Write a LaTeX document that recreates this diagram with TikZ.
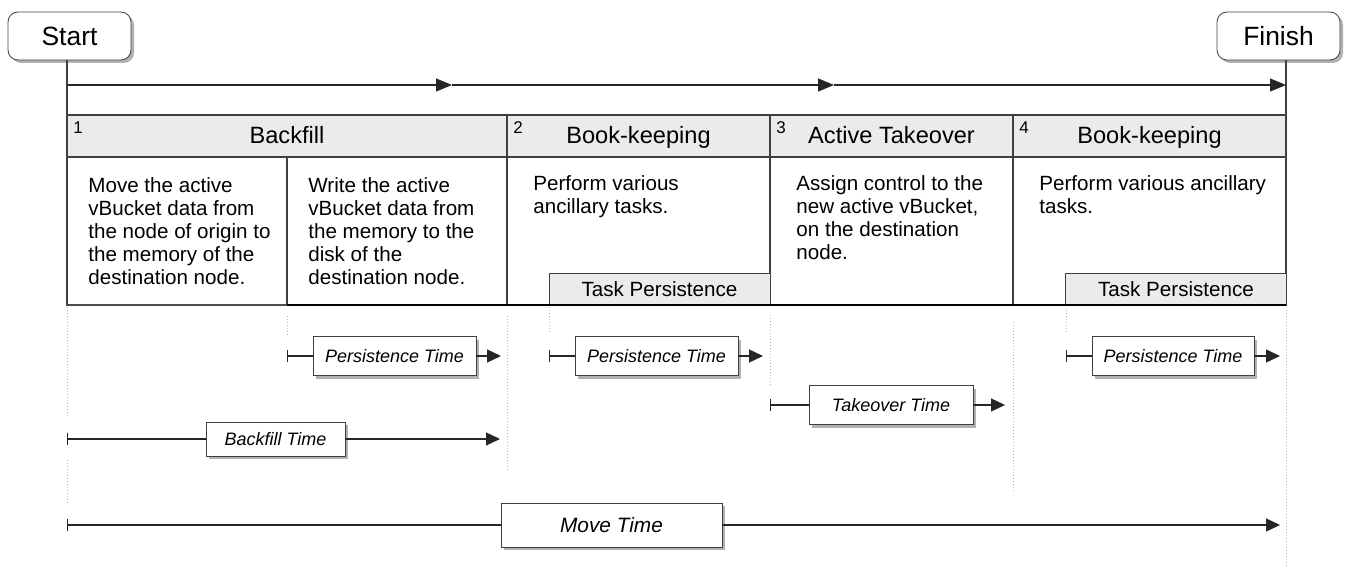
\documentclass[tikz,border=0pt]{standalone}
\usepackage{fontspec}
\setmainfont{Liberation Sans}
\usetikzlibrary{arrows.meta,shadows}

\definecolor{linegray}{gray}{0.25}
\definecolor{headgray}{gray}{0.92}
\definecolor{guidegray}{gray}{0.72}

\tikzset{
  shade/.style={drop shadow={shadow xshift=1.5pt, shadow yshift=-1.5pt, fill=black!30, opacity=1}},
  endbox/.style={draw=linegray, fill=white, rounded corners=5pt, shade,
    minimum width=61.5pt, minimum height=24pt, inner sep=0pt,
    font=\fontsize{13.2}{15}\selectfont},
  head/.style={anchor=base, inner sep=0pt, font=\fontsize{11.8}{14}\selectfont},
  num/.style={anchor=north west, inner sep=0pt, font=\fontsize{8.5}{9}\selectfont},
  body/.style={anchor=north west, inner sep=0pt, align=left,
    font=\fontsize{10.3}{11.5}\selectfont},
  taskbox/.style={draw=linegray, fill=headgray, minimum width=110.5pt,
    minimum height=16pt, inner sep=0pt, font=\fontsize{10.3}{12}\selectfont},
  timebox/.style={draw=linegray, fill=white, shade, minimum height=19.5pt,
    inner sep=0pt, font=\itshape\fontsize{9}{11}\selectfont},
  guide/.style={draw=guidegray, densely dotted, line width=0.5pt},
  flow/.style={draw=black!85, line width=0.6pt, -{Triangle[length=8pt,width=6.5pt]}},
  startbar/.style={draw=black!85, line width=0.6pt, {Bar[width=6pt]}-},
  endtip/.style={draw=black!85, line width=0.6pt, -{Triangle[length=7pt,width=6.5pt]}}
}

\begin{document}
\begin{tikzpicture}[x=0.5pt,y=-0.5pt]
%\draw[help lines] (0,0) grid (1353,588);
\useasboundingbox (0,0) rectangle (1353,588);

\node[endbox] (start) at (69.5,36) {Start};
\node[endbox] (finish) at (1278.5,36) {Finish};

\coordinate (tl) at (67,115);
\coordinate (tr) at (1286,115);
\draw[linegray, line width=0.6pt] (start.south -| tl) -- (tl);
\draw[linegray, line width=0.6pt] (finish.south -| tr) -- (tr);

% time line
\coordinate (t0) at (67,85);
\coordinate (t1) at (452,85);
\coordinate (t2) at (834,85);
\coordinate (t3) at (1286,85);
\draw[flow] (t0) -- (t1);
\draw[flow] (t1) -- (t2);
\draw[flow] (t2) -- (t3);

% table
\draw[linegray, line width=0.6pt, fill=headgray] (67,115) rectangle (1286,157);
\draw[linegray, line width=0.6pt] (67,157) rectangle (1286,305);
\foreach \x in {507,770,1013}
  \draw[linegray, line width=0.6pt] (\x,115) -- (\x,305);
\draw[linegray, line width=0.6pt] (287,157) -- (287,305);

\node[head] (backfill) at (287,144) {Backfill};
\node[head] (keep1) at (638.5,144) {Book-keeping};
\node[head] (takeover) at (891.5,144) {Active Takeover};
\node[head] (keep2) at (1149.5,144) {Book-keeping};
\node[num] (n1) at (73,121) {1};
\node[num] (n2) at (513,121) {2};
\node[num] (n3) at (776,121) {3};
\node[num] (n4) at (1019,121) {4};

\node[body] (move) at (88,177) {Move the active\\vBucket data from\\the node of origin to\\the memory of the\\destination node.};
\node[body] (write) at (308,177) {Write the active\\vBucket data from\\the memory to the\\disk of the\\destination node.};
\node[body] (tasks1) at (533,175) {Perform various\\ancillary tasks.};
\node[body] (assign) at (796,175) {Assign control to the\\new active vBucket,\\on the destination\\node.};
\node[body] (tasks2) at (1039,175) {Perform various ancillary\\tasks.};

\node[taskbox] (tp1) at (659.5,289) {Task Persistence};
\node[taskbox] (tp2) at (1176,289) {Task Persistence};

\draw[black!70, line width=1pt] (67,305) -- (287,305);
\draw[black, line width=1.3pt] (287,305) -- (1286,305);

% guides
\foreach \x/\a/\b in {67/307/417, 67/460/503, 287/316/337, 507/316/472,
    549/307/332, 770/315/385, 1013/322/493, 1066/310/332, 1286/310/568}
  \draw[guide] (\x,\a) -- (\x,\b);

% durations
\coordinate (pt1s) at (287,356);
\coordinate (pt1e) at (501,356);
\node[timebox, minimum width=81.5pt] (pt1) at (394.5,356) {Persistence Time};
\draw[startbar] (pt1s) -- (pt1);
\draw[endtip] (pt1) -- (pt1e);

\coordinate (pt2s) at (549,356);
\coordinate (pt2e) at (763,356);
\node[timebox, minimum width=81.5pt] (pt2) at (656.5,356) {Persistence Time};
\draw[startbar] (pt2s) -- (pt2);
\draw[endtip] (pt2) -- (pt2e);

\coordinate (pt3s) at (1066,356);
\coordinate (pt3e) at (1280,356);
\node[timebox, minimum width=81pt] (pt3) at (1173,356) {Persistence Time};
\draw[startbar] (pt3s) -- (pt3);
\draw[endtip] (pt3) -- (pt3e);

\coordinate (tks) at (770,405);
\coordinate (tke) at (1005,405);
\node[timebox, minimum width=82pt] (tk) at (891,405) {Takeover Time};
\draw[startbar] (tks) -- (tk);
\draw[endtip] (tk) -- (tke);

\coordinate (bfs) at (67,439);
\coordinate (bfe) at (500,439);
\node[timebox, minimum width=69.5pt, minimum height=17pt] (bf) at (275.5,439) {Backfill Time};
\draw[startbar] (bfs) -- (bf);
\draw[endtip] (bf) -- (bfe);

\coordinate (mvs) at (67,525);
\coordinate (mve) at (1280,525);
\node[timebox, minimum width=110.5pt, minimum height=22pt, font=\itshape\fontsize{10.4}{12}\selectfont] (mv) at (611.5,525) {Move Time};
\draw[startbar] (mvs) -- (mv);
\draw[endtip] (mv) -- (mve);
\end{tikzpicture}
\end{document}
